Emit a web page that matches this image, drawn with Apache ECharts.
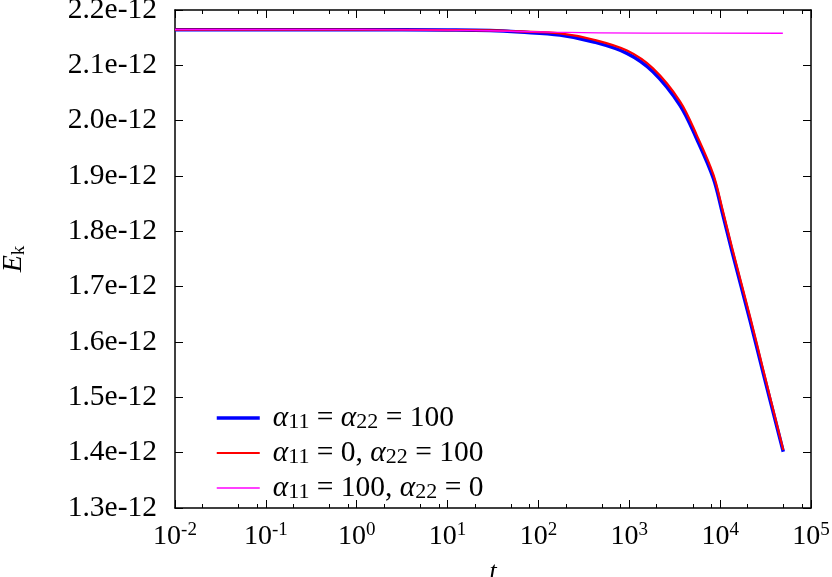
<!DOCTYPE html>
<html>
<head>
<meta charset="utf-8">
<script src="https://cdn.jsdelivr.net/npm/echarts@6/dist/echarts.min.js"></script>
<style>
  html, body { margin: 0; padding: 0; background: #fff; }
  #chart { width: 832px; height: 577px; }
</style>
</head>
<body>
<div id="chart"></div>
<script>
// time points
const times = [0.01, 1, 10, 29.3, 62.7, 172.6, 398, 944, 1824, 3614, 5559, 8414, 10470, 13400, 21280, 29850, 49550];
// kinetic energy, alpha11 = alpha22 = 100
const ekBoth = [2.1645e-12, 2.1645e-12, 2.1638e-12, 2.1629e-12, 2.1602e-12, 2.1548e-12, 2.1427e-12, 2.1217e-12, 2.0885e-12, 2.0280e-12, 1.9660e-12, 1.8960e-12, 1.8367e-12, 1.7662e-12, 1.6397e-12, 1.5434e-12, 1.4017e-12];
// alpha11 = 0, alpha22 = 100
const ekA22 = [2.1645e-12, 2.1645e-12, 2.1638e-12, 2.1632e-12, 2.1612e-12, 2.1578e-12, 2.1467e-12, 2.1267e-12, 2.0945e-12, 2.0350e-12, 1.9730e-12, 1.9030e-12, 1.8437e-12, 1.7732e-12, 1.6467e-12, 1.5494e-12, 1.4050e-12];
// alpha11 = 100, alpha22 = 0
const magTimes = [0.01, 1, 10, 30, 134, 1600, 49000];
const ekA11 = [2.1645e-12, 2.1644e-12, 2.1638e-12, 2.1625e-12, 2.1600e-12, 2.1582e-12, 2.1580e-12];

const seriesNames = ['a11 = a22 = 100', 'a11 = 0, a22 = 100', 'a11 = 100, a22 = 0'];
const legendLabels = [
  '{a|α}{sub|11}{t| = }{a|α}{sub|22}{t| = 100}',
  '{a|α}{sub|11}{t| = 0, }{a|α}{sub|22}{t| = 100}',
  '{a|α}{sub|11}{t| = 100, }{a|α}{sub|22}{t| = 0}'
];
const minorTicks = [0.02, 0.05, 0.08, 0.2, 0.5, 0.8, 2, 5, 8, 20, 50, 80, 200, 500, 800, 2000, 5000, 8000, 20000, 50000, 80000];

const FONT = 'Liberation Serif';
const pairs = (xs, ys) => xs.map((x, i) => [x, ys[i]]);

const chart = echarts.init(document.getElementById('chart'));

function powLabel(value) {
  const exp = Math.round(Math.log10(value));
  return '{b|10}{s|' + exp + '}';
}

const baseX = {
  type: 'log',
  logBase: 10,
  min: 0.01,
  max: 100000,
  gridIndex: 0,
  splitLine: { show: false },
  axisLine: { lineStyle: { color: '#000', width: 1.5 } },
};

chart.setOption({
  animation: false,
  backgroundColor: '#fff',
  textStyle: { fontFamily: FONT },
  grid: { left: 175, right: 21, top: 10, bottom: 69, outerBoundsMode: 'none' },
  legend: {
    orient: 'vertical',
    left: 210,
    top: 398,
    itemWidth: 43,
    itemHeight: 14,
    itemGap: 5,
    itemStyle: { opacity: 0, borderWidth: 0 },
    data: [
      { name: seriesNames[0], lineStyle: { width: 3.5 } },
      { name: seriesNames[1], lineStyle: { width: 2.2 } },
      { name: seriesNames[2], lineStyle: { width: 1.3 } }
    ],
    formatter: (name) => legendLabels[seriesNames.indexOf(name)],
    textStyle: {
      fontFamily: FONT,
      color: '#000',
      padding: [0, 0, 0, 8],
      rich: {
        a: { fontFamily: FONT, fontStyle: 'italic', fontSize: 29.5, lineHeight: 30, color: '#000' },
        t: { fontFamily: FONT, fontSize: 29.5, lineHeight: 30, color: '#000' },
        sub: { fontFamily: FONT, fontSize: 22, lineHeight: 12, verticalAlign: 'bottom', color: '#000' }
      }
    }
  },
  xAxis: [
    Object.assign({}, baseX, {
      position: 'bottom',
      name: 't',
      nameLocation: 'middle',
      nameGap: 51,
      nameTextStyle: { fontFamily: FONT, fontStyle: 'italic', fontSize: 26, color: '#000' },
      axisTick: { inside: true, length: 8, lineStyle: { color: '#000', width: 1 } },
      axisLabel: {
        margin: 13,
        color: '#000',
        formatter: powLabel,
        rich: {
          b: { fontFamily: FONT, fontSize: 28, lineHeight: 32, color: '#000' },
          s: { fontFamily: FONT, fontSize: 19, lineHeight: 10, verticalAlign: 'top', color: '#000' }
        }
      }
    }),
    Object.assign({}, baseX, {
      position: 'top',
      axisTick: { inside: true, length: 8, lineStyle: { color: '#000', width: 1 } },
      axisLabel: { show: false }
    }),
    Object.assign({}, baseX, {
      position: 'bottom',
      axisLine: { show: false },
      axisTick: { inside: true, length: 4, customValues: minorTicks, lineStyle: { color: '#000', width: 1 } },
      axisLabel: { show: false }
    }),
    Object.assign({}, baseX, {
      position: 'top',
      axisLine: { show: false },
      axisTick: { inside: true, length: 4, customValues: minorTicks, lineStyle: { color: '#000', width: 1 } },
      axisLabel: { show: false }
    })
  ],
  yAxis: [
    {
      type: 'value',
      min: 1.3e-12,
      max: 2.2e-12,
      interval: 1e-13,
      position: 'left',
      name: '{e|E}{k|k}',
      nameLocation: 'middle',
      nameRotate: 90,
      nameGap: 146,
      nameTextStyle: {
        rich: {
          e: { fontFamily: FONT, fontStyle: 'italic', fontSize: 28, lineHeight: 30, color: '#000' },
          k: { fontFamily: FONT, fontSize: 19, lineHeight: 12, verticalAlign: 'bottom', color: '#000' }
        }
      },
      splitLine: { show: false },
      axisLine: { show: true, lineStyle: { color: '#000', width: 1.5 } },
      axisTick: { inside: true, length: 8, lineStyle: { color: '#000', width: 1 } },
      axisLabel: {
        margin: 18,
        fontFamily: FONT,
        fontSize: 29.5,
        color: '#000',
        formatter: (v) => v.toExponential(1)
      }
    },
    {
      type: 'value',
      min: 1.3e-12,
      max: 2.2e-12,
      interval: 1e-13,
      position: 'right',
      splitLine: { show: false },
      axisLine: { show: true, lineStyle: { color: '#000', width: 1.5 } },
      axisTick: { inside: true, length: 8, lineStyle: { color: '#000', width: 1 } },
      axisLabel: { show: false }
    }
  ],
  series: [
    {
      name: seriesNames[0],
      type: 'line',
      data: pairs(times, ekBoth),
      symbol: 'none',
      smooth: 0.35,
      lineStyle: { color: '#0000ff', width: 3.5 },
      itemStyle: { color: '#0000ff' }
    },
    {
      name: seriesNames[1],
      type: 'line',
      data: pairs(times, ekA22),
      symbol: 'none',
      smooth: 0.35,
      lineStyle: { color: '#ff0000', width: 2.2 },
      itemStyle: { color: '#ff0000' }
    },
    {
      name: seriesNames[2],
      type: 'line',
      data: pairs(magTimes, ekA11),
      symbol: 'none',
      smooth: 0.35,
      lineStyle: { color: '#ff00ff', width: 1.3 },
      itemStyle: { color: '#ff00ff' }
    }
  ]
});
</script>
</body>
</html>
